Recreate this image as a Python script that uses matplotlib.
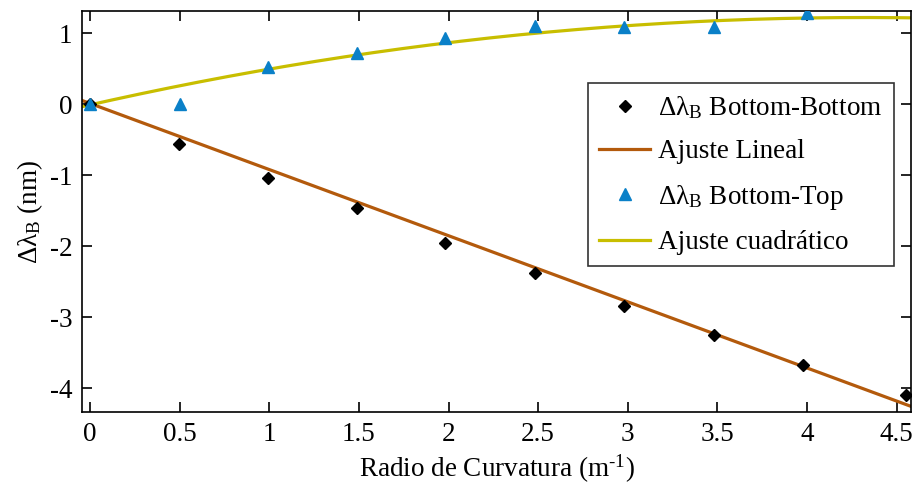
import numpy as np
import matplotlib
matplotlib.use("Agg")
import matplotlib.pyplot as plt

plt.rcParams['font.family'] = ['Liberation Serif', 'DejaVu Serif']
plt.rcParams['mathtext.fontset'] = 'custom'
plt.rcParams['mathtext.rm'] = 'Liberation Serif'
plt.rcParams['mathtext.it'] = 'Liberation Serif:italic'
plt.rcParams['mathtext.bf'] = 'Liberation Serif:bold'

# Data
bb_x = [0.0, 0.497, 0.99, 1.49, 1.98, 2.48, 2.98, 3.48, 3.98, 4.55]
bb_y = [0.0, -0.56, -1.04, -1.47, -1.96, -2.38, -2.85, -3.26, -3.67, -4.10]
bt_x = [0.0, 0.5, 0.99, 1.49, 1.98, 2.48, 2.98, 3.48, 4.0]
bt_y = [0.0, 0.0, 0.52, 0.72, 0.93, 1.10, 1.09, 1.09, 1.28]
lin_coef = [-0.932, 0.01]          # slope, intercept
quad_coef = [-0.066, 0.57, -0.01]  # a, b, c
x_ticks = [0, 0.5, 1, 1.5, 2, 2.5, 3, 3.5, 4, 4.5]
x_ticklabels = ['0', '0.5', '1', '1.5', '2', '2.5', '3', '3.5', '4', '4.5']
y_ticks = [-4, -3, -2, -1, 0, 1]
y_ticklabels = ['-4', '-3', '-2', '-1', '0', '1']

FS = 19.5
fig = plt.figure(figsize=(9.14, 4.86), dpi=100)
ax = fig.add_axes([0.0897, 0.152, 0.907, 0.825])

xmin, xmax = -0.045, 4.58
xf = np.linspace(xmin, xmax, 200)

ax.plot(bb_x, bb_y, linestyle='none', marker='D', markersize=6.5, color='black',
        label='Δλ$_{\\mathrm{B}}$ Bottom-Bottom', zorder=3)
ax.plot(xf, np.polyval(lin_coef, xf), color='#B35A0C', linewidth=2.3,
        label='Ajuste Lineal', zorder=2)
ax.plot(bt_x, bt_y, linestyle='none', marker='^', markersize=8.5, color='#0A80C8',
        label='Δλ$_{\\mathrm{B}}$ Bottom-Top', zorder=3)
ax.plot(xf, np.polyval(quad_coef, xf), color='#C8BE00', linewidth=2.3,
        label='Ajuste cuadrático', zorder=2)

ax.set_xlim(xmin, xmax)
ax.set_ylim(-4.34, 1.31)
ax.set_xticks(x_ticks)
ax.set_xticklabels(x_ticklabels)
ax.set_yticks(y_ticks)
ax.set_yticklabels(y_ticklabels)
ax.tick_params(direction='in', length=7, width=1.2, labelsize=FS,
               top=True, right=True, pad=7)
for s in ax.spines.values():
    s.set_linewidth(1.2)

ax.set_xlabel('Radio de Curvatura (m$^{\\text{-1}}$)', fontsize=FS, labelpad=4)
ax.set_ylabel('Δλ$_{\\mathrm{B}}$ (nm)', fontsize=FS, labelpad=3)

leg = ax.legend(loc='upper right', bbox_to_anchor=(0.979, 0.820), borderaxespad=0,
                fontsize=FS, frameon=True, fancybox=False, edgecolor='black',
                handlelength=1.9, labelspacing=0.68, handletextpad=0.3,
                borderpad=0.4)
leg.get_frame().set_linewidth(1.2)

fig.savefig('out.png', dpi=100)
